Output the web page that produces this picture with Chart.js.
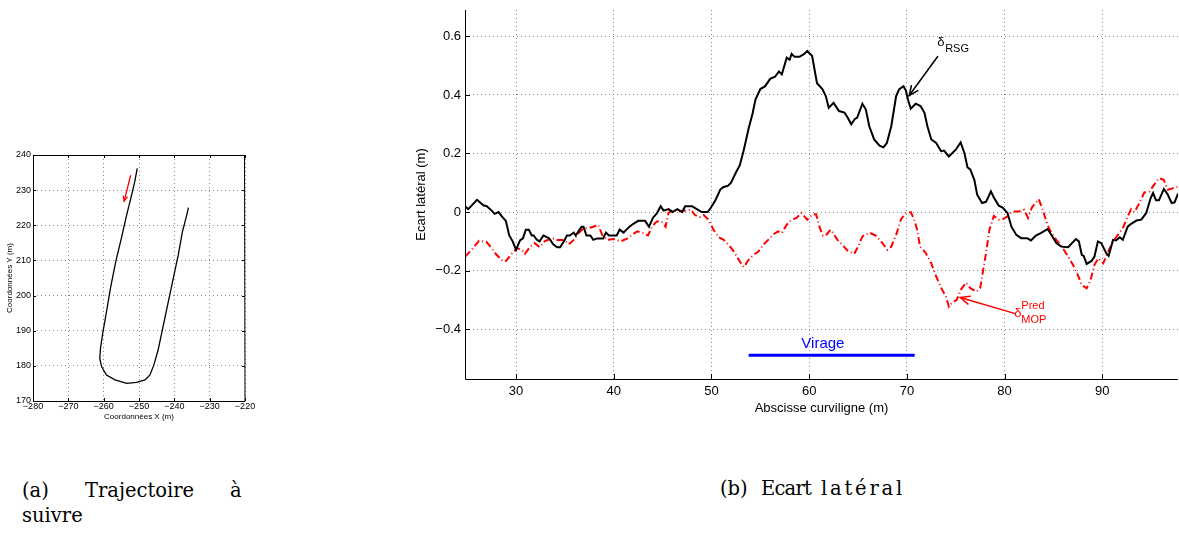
<!DOCTYPE html>
<html>
<head>
<meta charset="utf-8">
<script src="https://cdn.jsdelivr.net/npm/chart.js@4.4.1/dist/chart.umd.min.js"></script>
<style>
  body { margin: 0; width: 1179px; height: 540px; background: #fff; overflow: hidden; position: relative; }
  canvas { position: absolute; }
  #trajCanvas { left: 0; top: 140px; }
  #ecartCanvas { left: 380px; top: 0; }
  .cap { position: absolute; font-family: "DejaVu Serif", serif; font-size: 19.5px; color: #000; white-space: nowrap; }
</style>
</head>
<body>
<canvas id="trajCanvas" width="255" height="290"></canvas>
<canvas id="ecartCanvas" width="801" height="420"></canvas>

<div class="cap" style="left:22px;top:479px">(a)</div>
<div class="cap" style="left:85px;top:479px">Trajectoire</div>
<div class="cap" style="left:230px;top:479px">à</div>
<div class="cap" style="left:22px;top:504px">suivre</div>
<div class="cap" style="left:720px;top:477px">(b)</div>
<div class="cap" style="left:761px;top:477px;letter-spacing:-0.8px">Ecart</div>
<div class="cap" style="left:821px;top:477px;letter-spacing:2.8px">latéral</div>

<script>
// (a) trajectoire
const trajX = [-250.5, -251.2, -252.1, -253.5, -255.0, -256.6, -258.1, -259.2, -260.2, -260.9, -261.1, -260.6, -259.2,
  -256.8, -253.5, -250.7, -248.3, -246.9, -245.8, -244.6, -243.1, -241.7, -240.3, -238.9, -237.7, -236.5, -236.0];
const trajY = [236.2, 232.4, 228.6, 222.9, 216.3, 209.6, 202.0, 195.4, 189.7, 185.0, 182.1, 179.8, 177.4,
  176.0, 175.0, 175.3, 176.0, 177.4, 180.2, 184.5, 191.6, 198.3, 204.9, 211.5, 218.2, 222.9, 225.0];
const trajArrowX = [-252.4, -254.2];
const trajArrowY = [234.1, 226.9];
const trajTicksX = [-280, -270, -260, -250, -240, -230, -220];
const trajTicksY = [170, 180, 190, 200, 210, 220, 230, 240];

// (b) ecart lateral
const rsgX = [24.8, 25.1, 26.0, 26.65, 27.0, 27.5, 27.8, 28.2, 28.5, 28.95, 29.3, 29.65, 30.0, 30.4, 30.7, 31.0, 31.3,
  31.6, 31.8, 32.1, 32.4, 32.8, 33.1, 33.4, 33.8, 34.2, 34.5, 34.9, 35.2, 35.5, 35.9, 36.1, 36.5, 36.7, 36.9, 37.2,
  37.6, 37.9, 38.3, 38.9, 39.2, 39.5, 40.3, 40.6, 41.0, 41.3, 41.6, 42.0, 42.5, 43.2, 43.6, 44.0, 44.4, 44.8, 45.1,
  45.6, 46.0, 46.5, 47.0, 47.3, 48.0, 48.5, 49.0, 49.6, 49.9, 50.4, 50.9, 51.2, 51.7, 52.0, 52.5, 52.9, 53.3, 53.8,
  54.2, 54.5, 55.0, 55.5, 56.0, 56.5, 56.9, 57.2, 57.7, 58.0, 58.2, 58.5, 59.0, 59.5, 59.8, 60.3, 60.8, 61.35, 61.7,
  62.0, 62.5, 63.05, 63.6, 63.95, 64.3, 64.67, 64.9, 65.45, 65.8, 66.15, 66.65, 67.2, 67.6, 67.95, 68.4, 68.9, 69.2,
  69.65, 69.9, 70.1, 70.4, 70.9, 71.4, 71.8, 72.1, 72.5, 73.0, 73.5, 73.8, 74.3, 75.0, 75.5, 75.9, 76.2, 76.5, 76.9,
  77.2, 77.7, 78.1, 78.6, 78.9, 79.4, 79.8, 80.3, 80.7, 81.2, 81.7, 82.3, 82.7, 83.2, 83.7, 84.4, 84.8, 85.3, 85.8,
  86.5, 87.3, 87.6, 87.9, 88.1, 88.4, 88.9, 89.2, 89.55, 89.9, 90.4, 90.65, 91.1, 91.4, 91.8, 92.1, 92.6, 92.95,
  93.5, 94.0, 94.5, 94.95, 95.2, 95.5, 95.8, 96.3, 96.7, 97.1, 97.4, 97.75];
const rsgY = [0.019, 0.010, 0.042, 0.023, 0.02, 0.005, -0.006, 0.0, -0.013, -0.03, -0.08, -0.10, -0.129, -0.097, -0.09,
  -0.06, -0.06, -0.08, -0.08, -0.094, -0.10, -0.08, -0.085, -0.09, -0.11, -0.12, -0.12, -0.10, -0.08, -0.08, -0.07,
  -0.08, -0.06, -0.05, -0.05, -0.08, -0.08, -0.095, -0.09, -0.09, -0.07, -0.08, -0.08, -0.06, -0.07, -0.06, -0.05,
  -0.04, -0.03, -0.03, -0.05, -0.02, -0.005, 0.02, 0.005, 0.01, 0.0, 0.01, 0.0, 0.02, 0.02, 0.01, 0.0, 0.0, 0.013,
  0.04, 0.077, 0.085, 0.09, 0.10, 0.135, 0.16, 0.211, 0.285, 0.336, 0.384, 0.42, 0.43, 0.455, 0.462, 0.48, 0.47,
  0.527, 0.52, 0.54, 0.53, 0.53, 0.54, 0.55, 0.533, 0.44, 0.42, 0.396, 0.356, 0.373, 0.345, 0.34, 0.322, 0.30,
  0.318, 0.322, 0.37, 0.35, 0.293, 0.248, 0.227, 0.221, 0.236, 0.293, 0.396, 0.419, 0.43, 0.415, 0.385, 0.353,
  0.37, 0.362, 0.339, 0.293, 0.248, 0.236, 0.208, 0.21, 0.19, 0.213, 0.238, 0.20, 0.153, 0.145, 0.11, 0.059,
  0.031, 0.035, 0.071, 0.05, 0.022, 0.015, -0.003, -0.05, -0.078, -0.089, -0.089, -0.097, -0.08, -0.072, -0.058,
  -0.078, -0.106, -0.118, -0.12, -0.092, -0.10, -0.146, -0.15, -0.177, -0.167, -0.152, -0.10, -0.106, -0.14, -0.15,
  -0.095, -0.097, -0.086, -0.095, -0.05, -0.04, -0.029, -0.026, -0.003, 0.048, 0.065, 0.04, 0.04, 0.079, 0.06,
  0.031, 0.033, 0.063];

const mopX = [24.8, 25.6, 26.2, 27.0, 27.5, 28.0, 28.7, 29.0, 29.6, 30.1, 30.6, 30.9, 31.4, 31.9, 32.4, 32.9, 33.7,
  34.2, 34.9, 35.4, 35.9, 36.4, 36.9, 37.4, 37.9, 38.4, 38.8, 39.3, 40.0, 40.7, 41.4, 41.9, 42.4, 43.0, 43.5, 43.9,
  44.4, 44.9, 45.3, 45.6, 46.1, 46.6, 47.3, 47.9, 48.3, 48.8, 49.2, 49.7, 50.2, 50.75, 51.25, 51.75, 52.3, 52.9,
  53.3, 53.8, 54.3, 54.8, 55.3, 55.8, 56.3, 56.8, 57.2, 57.7, 58.2, 58.7, 59.2, 59.8, 60.3, 60.7, 61.1, 61.4, 61.7,
  62.2, 62.9, 63.4, 63.9, 64.6, 65.0, 65.45, 66.15, 66.8, 67.5, 68.0, 68.4, 68.9, 69.4, 69.9, 70.4, 70.75, 71.05,
  71.35, 71.9, 72.5, 73.0, 73.5, 74.0, 74.3, 74.6, 75.1, 75.5, 76.05, 76.5, 77.1, 77.5, 77.7, 78.1, 78.45, 78.9,
  79.4, 79.8, 80.3, 80.8, 81.5, 82.0, 82.4, 82.8, 83.5, 83.9, 84.4, 84.8, 85.3, 85.8, 86.5, 87.0, 87.5, 87.9, 88.4,
  88.8, 89.2, 89.6, 90.1, 90.6, 91.1, 91.6, 92.1, 92.6, 92.95, 93.3, 93.8, 94.3, 94.8, 95.3, 95.8, 96.3, 96.7,
  97.1, 97.9];
const mopY = [-0.152, -0.123, -0.098, -0.103, -0.123, -0.146, -0.169, -0.166, -0.14, -0.123, -0.13, -0.143, -0.12,
  -0.106, -0.12, -0.10, -0.089, -0.095, -0.095, -0.11, -0.095, -0.072, -0.055, -0.055, -0.05, -0.043, -0.077, -0.095,
  -0.092, -0.10, -0.09, -0.077, -0.066, -0.072, -0.08, -0.05, -0.032, -0.032, -0.05, -0.003, 0.008, 0.002, 0.005,
  0.008, -0.01, -0.017, -0.01, -0.026, -0.06, -0.086, -0.095, -0.112, -0.135, -0.169, -0.188, -0.163, -0.146,
  -0.135, -0.112, -0.095, -0.077, -0.066, -0.072, -0.043, -0.026, -0.02, -0.003, -0.026, -0.009, -0.007, -0.055,
  -0.08, -0.08, -0.06, -0.095, -0.112, -0.131, -0.143, -0.118, -0.083, -0.07, -0.08, -0.106, -0.129, -0.118,
  -0.078, -0.024, -0.003, 0.0, -0.026, -0.06, -0.118, -0.138, -0.175, -0.22, -0.258, -0.289, -0.323, -0.31, -0.30,
  -0.266, -0.241, -0.26, -0.272, -0.26, -0.22, -0.14, -0.06, -0.013, -0.026, -0.025, -0.015, 0.002, 0.002, 0.008,
  -0.02, 0.016, 0.044, 0.008, -0.044, -0.072, -0.095, -0.115, -0.152, -0.18, -0.215, -0.249, -0.26, -0.232, -0.18,
  -0.158, -0.175, -0.135, -0.10, -0.078, -0.055, -0.015, 0.01, 0.0, 0.031, 0.067, 0.07, 0.093, 0.116, 0.11, 0.076,
  0.08, 0.088];

const virageX = [53.8, 70.8];
const virageY = [-0.489, -0.489];
const ecartTicksX = [30, 40, 50, 60, 70, 80, 90];
const ecartTicksY = [-0.4, -0.2, 0, 0.2, 0.4, 0.6];
// fleches d'annotation [depart, arrivee]
const rsgArrowX = [73.15, 70.24];
const rsgArrowY = [0.531, 0.398];
const mopArrowX = [81.0, 75.47];
const mopArrowY = [-0.346, -0.292];

Chart.defaults.font.family = '"Liberation Sans", Arial, sans-serif';
Chart.defaults.color = '#000';

const pts = (xs, ys) => xs.map((x, i) => ({ x: x, y: ys[i] }));
const minus = v => (v < 0 ? '\u2212' + Math.abs(v) : String(v));

function drawArrow(ctx, x0, y0, x1, y1, color, width, head) {
  ctx.save();
  ctx.strokeStyle = color;
  ctx.lineWidth = width;
  ctx.lineCap = 'round';
  ctx.beginPath();
  ctx.moveTo(x0, y0);
  ctx.lineTo(x1, y1);
  ctx.stroke();
  const a = Math.atan2(y1 - y0, x1 - x0);
  ctx.beginPath();
  ctx.moveTo(x1 - head * Math.cos(a - 0.42), y1 - head * Math.sin(a - 0.42));
  ctx.lineTo(x1, y1);
  ctx.lineTo(x1 - head * Math.cos(a + 0.42), y1 - head * Math.sin(a + 0.42));
  ctx.stroke();
  ctx.restore();
}

// axes dessinees a la main (bordure pleine + petites graduations interieures)
function axesPlugin(box) {
  return {
    id: 'axesLines',
    afterDraw(chart) {
      const { ctx, chartArea: a, scales: { x, y } } = chart;
      ctx.save();
      ctx.strokeStyle = '#000';
      ctx.lineWidth = 1;
      ctx.beginPath();
      ctx.moveTo(a.left + 0.5, a.top);
      ctx.lineTo(a.left + 0.5, a.bottom + 0.5);
      ctx.lineTo(a.right, a.bottom + 0.5);
      if (box) {
        ctx.lineTo(a.right - 0.5, a.top + 0.5);
        ctx.lineTo(a.left + 0.5, a.top + 0.5);
      }
      ctx.stroke();
      const tl = box ? 3 : 5;
      ctx.beginPath();
      x.ticks.forEach(t => {
        const px = Math.round(x.getPixelForValue(t.value)) + 0.5;
        ctx.moveTo(px, a.bottom); ctx.lineTo(px, a.bottom - tl);
        if (box) { ctx.moveTo(px, a.top); ctx.lineTo(px, a.top + tl); }
      });
      y.ticks.forEach(t => {
        const py = Math.round(y.getPixelForValue(t.value)) + 0.5;
        ctx.moveTo(a.left, py); ctx.lineTo(a.left + tl, py);
        if (box) { ctx.moveTo(a.right, py); ctx.lineTo(a.right - tl, py); }
      });
      ctx.stroke();
      ctx.restore();
    }
  };
}

const dotted = { color: '#8a8a8a', lineWidth: 1 };
const dottedBorder = { display: false, dash: [1, 3] };

// ---------- (a) ----------
new Chart(document.getElementById('trajCanvas'), {
  type: 'scatter',
  data: {
    datasets: [
      { data: pts(trajX, trajY), showLine: true, borderColor: '#000', borderWidth: 1.3, pointRadius: 0 }
    ]
  },
  options: {
    responsive: false,
    animation: false,
    events: [],
    layout: { padding: { top: 15, right: 10, left: 0, bottom: 0 } },
    plugins: { legend: { display: false }, tooltip: { enabled: false } },
    scales: {
      x: {
        type: 'linear', min: -280, max: -220,
        afterBuildTicks: s => { s.ticks = trajTicksX.map(v => ({ value: v })); },
        afterFit: s => { s.height = 29; s.paddingLeft = 0; s.paddingRight = 0; },
        grid: { ...dotted, drawTicks: false },
        border: dottedBorder,
        ticks: { font: { size: 9 }, padding: 0, maxRotation: 0, callback: v => minus(v) },
        title: { display: true, text: 'Coordonnées X (m)', font: { size: 8 }, padding: { top: 0, bottom: 8 } }
      },
      y: {
        type: 'linear', min: 170, max: 240,
        afterBuildTicks: s => { s.ticks = trajTicksY.map(v => ({ value: v })); },
        afterFit: s => { s.width = 33; s.paddingTop = 0; s.paddingBottom = 0; },
        grid: { ...dotted, drawTicks: false },
        border: dottedBorder,
        ticks: { font: { size: 9 }, padding: 2, callback: v => minus(v) },
        title: { display: true, text: 'Coordonnées Y (m)', font: { size: 8 }, padding: { top: 5, bottom: 0 } }
      }
    }
  },
  plugins: [axesPlugin(true), {
    id: 'trajArrow',
    afterDatasetsDraw(chart) {
      const { x, y } = chart.scales;
      drawArrow(chart.ctx, x.getPixelForValue(trajArrowX[0]), y.getPixelForValue(trajArrowY[0]),
        x.getPixelForValue(trajArrowX[1]), y.getPixelForValue(trajArrowY[1]), '#ff0000', 1.3, 5);
    }
  }]
});

// ---------- (b) ----------
new Chart(document.getElementById('ecartCanvas'), {
  type: 'scatter',
  data: {
    datasets: [
      { data: pts(rsgX, rsgY), showLine: true, borderColor: '#000', borderWidth: 2, pointRadius: 0 },
      { data: pts(mopX, mopY), showLine: true, borderColor: '#ff0000', borderWidth: 2, pointRadius: 0,
        borderDash: [7, 3, 1, 3] },
      { data: pts(virageX, virageY), showLine: true, borderColor: '#0000ff', borderWidth: 3, pointRadius: 0 }
    ]
  },
  options: {
    responsive: false,
    animation: false,
    events: [],
    layout: { padding: { top: 10, right: 3, left: 0, bottom: 0 } },
    plugins: { legend: { display: false }, tooltip: { enabled: false } },
    scales: {
      x: {
        type: 'linear', min: 24.77, max: 97.75,
        afterBuildTicks: s => { s.ticks = ecartTicksX.map(v => ({ value: v })); },
        afterFit: s => { s.height = 41; s.paddingLeft = 0; s.paddingRight = 0; },
        grid: { ...dotted, drawTicks: false },
        border: dottedBorder,
        ticks: { font: { size: 13 }, padding: 5, maxRotation: 0 },
        title: { display: true, text: 'Abscisse curviligne (m)', font: { size: 13 }, padding: { top: 0, bottom: 4 } }
      },
      y: {
        type: 'linear', min: -0.57, max: 0.69,
        afterBuildTicks: s => { s.ticks = ecartTicksY.map(v => ({ value: v })); },
        afterFit: s => { s.width = 85; s.paddingTop = 0; s.paddingBottom = 0; },
        grid: { ...dotted, drawTicks: false },
        border: dottedBorder,
        ticks: { font: { size: 13 }, padding: 4, callback: v => (v === 0 ? '0' : minus(Number(v).toFixed(1))) },
        title: { display: true, text: 'Ecart latéral (m)', font: { size: 13 }, padding: { top: 34, bottom: 0 } }
      }
    }
  },
  plugins: [axesPlugin(false), {
    id: 'ecartNotes',
    afterDatasetsDraw(chart) {
      const { ctx, scales: { x, y } } = chart;
      const px = v => x.getPixelForValue(v);
      const py = v => y.getPixelForValue(v);
      drawArrow(ctx, px(rsgArrowX[0]), py(rsgArrowY[0]), px(rsgArrowX[1]), py(rsgArrowY[1]), '#000', 1.5, 10);
      drawArrow(ctx, px(mopArrowX[0]), py(mopArrowY[0]), px(mopArrowX[1]), py(mopArrowY[1]), '#ff0000', 1.5, 10);

      ctx.save();
      ctx.textBaseline = 'alphabetic';
      // delta RSG
      ctx.fillStyle = '#000';
      ctx.textAlign = 'left';
      let bx = px(73.1), by = py(0.566);
      ctx.font = '13px "Liberation Sans", Arial, sans-serif';
      ctx.fillText('δ', bx, by);
      ctx.font = '11px "Liberation Sans", Arial, sans-serif';
      ctx.fillText('RSG', bx + 8, by + 6);
      // delta MOP pred
      ctx.fillStyle = '#ff0000';
      bx = px(81.0); by = py(-0.359);
      ctx.font = '13px "Liberation Sans", Arial, sans-serif';
      ctx.fillText('δ', bx, by);
      ctx.font = '11px "Liberation Sans", Arial, sans-serif';
      ctx.fillText('Pred', bx + 7, by - 8);
      ctx.fillText('MOP', bx + 7, by + 6);
      // Virage
      ctx.fillStyle = '#0000ff';
      ctx.textAlign = 'center';
      ctx.font = '15px "Liberation Sans", Arial, sans-serif';
      ctx.fillText('Virage', px(61.4), py(-0.465));
      ctx.restore();
    }
  }]
});
</script>
</body>
</html>
